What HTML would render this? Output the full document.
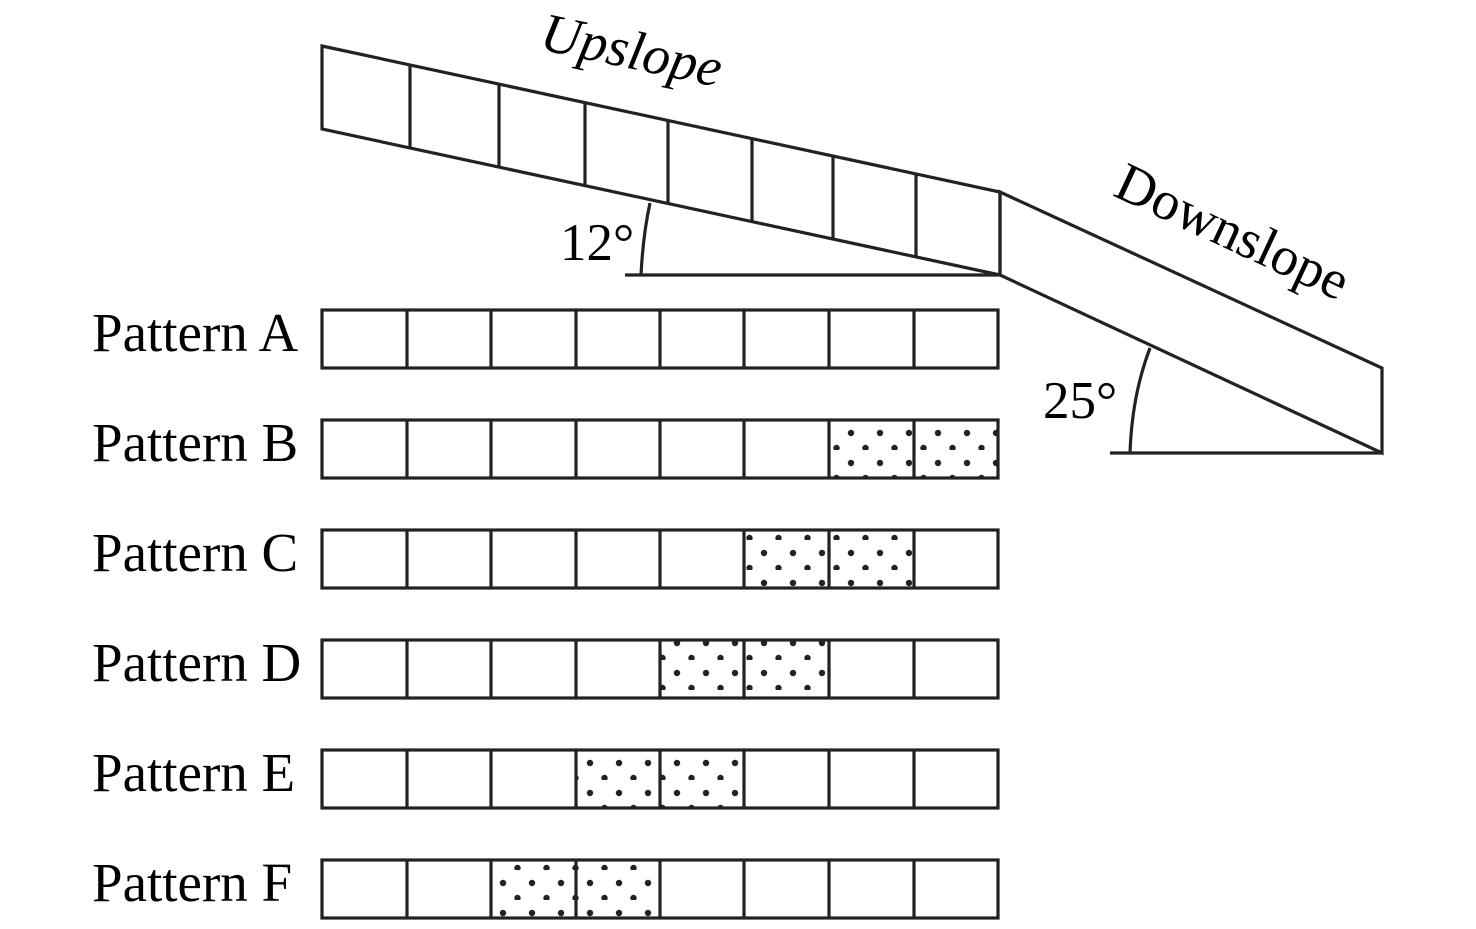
<!DOCTYPE html>
<html><head><style>body{margin:0;background:#fff}</style></head><body>
<svg width="1476" height="924" xmlns="http://www.w3.org/2000/svg" font-family="Liberation Serif, serif">
<defs>
<pattern id="d" x="0" y="0" width="29" height="30" patternUnits="userSpaceOnUse">
<circle cx="10" cy="13" r="3.2" fill="#222"/><circle cx="24.5" cy="28" r="3.2" fill="#222"/>
</pattern>
</defs>
<g stroke="#222" stroke-width="3.2" fill="none">
<polygon points="322,46 1000,192 1000,275 322,129"/>
<line x1="410" y1="65" x2="410" y2="148"/><line x1="499" y1="84" x2="499" y2="167"/>
<line x1="585" y1="103" x2="585" y2="186"/><line x1="668" y1="121" x2="668" y2="204"/>
<line x1="752" y1="139" x2="752" y2="222"/><line x1="833" y1="156" x2="833" y2="239"/>
<line x1="916" y1="174" x2="916" y2="257"/>
<polygon points="1000,192 1382,368 1382,453 1000,275"/>
<line x1="625" y1="275" x2="1000" y2="275"/>
<path d="M641,275 Q643,235 650,203"/>
<line x1="1110" y1="453" x2="1382" y2="453"/>
<path d="M1130,453 Q1132,395 1150,348"/>
</g>
<text x="628" y="68" font-size="55" font-style="italic" text-anchor="middle" transform="rotate(12 628 68)">Upslope</text>
<text x="1225" y="248" font-size="55" text-anchor="middle" transform="rotate(25 1225 248)">Downslope</text>
<text x="560" y="260" font-size="53">12°</text>
<text x="1043" y="418" font-size="53">25°</text>
<g font-size="55">
<text x="92" y="351">Pattern A</text><text x="92" y="461">Pattern B</text>
<text x="92" y="571">Pattern C</text><text x="92" y="681">Pattern D</text>
<text x="92" y="791">Pattern E</text><text x="92" y="901">Pattern F</text>
</g>
<g>
<rect x="829" y="420" width="169" height="58" fill="url(#d)"/>
<rect x="744" y="530" width="170" height="58" fill="url(#d)"/>
<rect x="660" y="640" width="169" height="58" fill="url(#d)"/>
<rect x="576" y="750" width="168" height="58" fill="url(#d)"/>
<rect x="491" y="860" width="169" height="58" fill="url(#d)"/>
</g>
<g stroke="#222" stroke-width="3.2" fill="none">
<rect x="322" y="310" width="676" height="58"/>
<rect x="322" y="420" width="676" height="58"/>
<rect x="322" y="530" width="676" height="58"/>
<rect x="322" y="640" width="676" height="58"/>
<rect x="322" y="750" width="676" height="58"/>
<rect x="322" y="860" width="676" height="58"/>
<path d="M407,310V368M491,310V368M576,310V368M660,310V368M744,310V368M829,310V368M914,310V368
M407,420V478M491,420V478M576,420V478M660,420V478M744,420V478M829,420V478M914,420V478
M407,530V588M491,530V588M576,530V588M660,530V588M744,530V588M829,530V588M914,530V588
M407,640V698M491,640V698M576,640V698M660,640V698M744,640V698M829,640V698M914,640V698
M407,750V808M491,750V808M576,750V808M660,750V808M744,750V808M829,750V808M914,750V808
M407,860V918M491,860V918M576,860V918M660,860V918M744,860V918M829,860V918M914,860V918"/>
</g>
</svg>
</body></html>
